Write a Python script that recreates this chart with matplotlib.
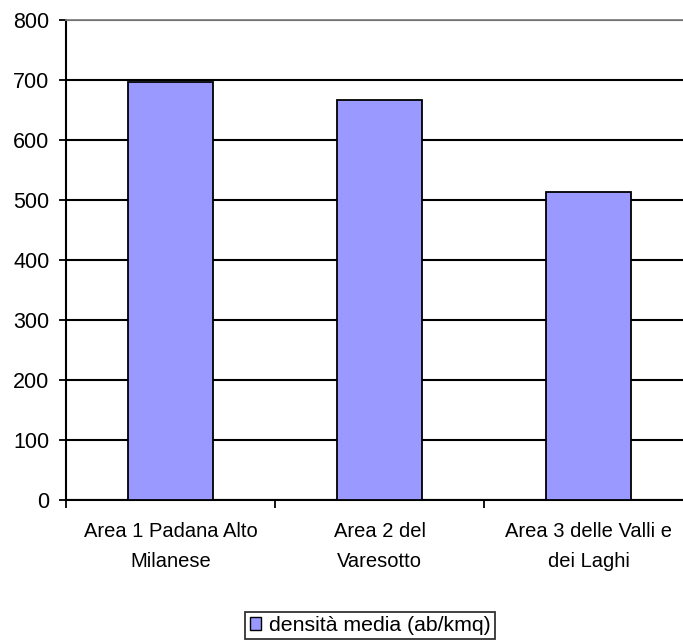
import matplotlib.pyplot as plt
import matplotlib.patches as mpatches
import numpy as np

plt.rcParams['font.family'] = ['Liberation Sans', 'DejaVu Sans']

aree = ['Area 1 Padana Alto\nMilanese', 'Area 2 del\nVaresotto', 'Area 3 delle Valli e\ndei Laghi']
densita = [697, 667, 513]
y_ticks = [0, 100, 200, 300, 400, 500, 600, 700, 800]

fig = plt.figure(figsize=(6.83, 6.43), dpi=100)
ax = fig.add_axes([66 / 683, 143 / 643, 627 / 683, 480 / 643])

x = np.arange(len(aree))
ax.bar(x, densita, width=0.405, color='#9999FF', edgecolor='black', linewidth=1.3, zorder=3)

ax.set_xlim(-0.5, len(aree) - 0.5)
ax.set_ylim(0, 800)
ax.set_yticks(y_ticks)
ax.set_yticklabels([str(v) for v in y_ticks], fontsize=15.5)
ax.yaxis.grid(True, color='black', linewidth=1.5, zorder=1)
ax.set_axisbelow(True)

# category labels centred, ticks on the category boundaries
ax.set_xticks(x)
ax.set_xticklabels(aree, fontsize=14.5, linespacing=1.72)
ax.tick_params(axis='x', length=0, pad=16)
ax.set_xticks(np.arange(len(aree) + 1) - 0.5, minor=True)
ax.tick_params(axis='x', which='minor', length=6, width=1.3, color='black')
ax.tick_params(axis='y', length=5, width=1.3, pad=7)

ax.spines['top'].set_color('#808080')
ax.spines['top'].set_linewidth(1.3)
ax.spines['right'].set_visible(False)
ax.spines['left'].set_linewidth(1.5)
ax.spines['bottom'].set_linewidth(1.5)

handle = mpatches.Patch(facecolor='#9999FF', edgecolor='black', linewidth=1.0)
leg = fig.legend([handle], ['densità media (ab/kmq)'], loc='center',
                 bbox_to_anchor=(370 / 683, 1 - 625.5 / 643), fontsize=15.3,
                 frameon=True, fancybox=False, handlelength=0.55, handleheight=0.55,
                 handletextpad=0.35, borderpad=0.2, borderaxespad=0)
leg.get_frame().set_edgecolor('black')
leg.get_frame().set_linewidth(1.3)

fig.savefig('out.png', dpi=100)
